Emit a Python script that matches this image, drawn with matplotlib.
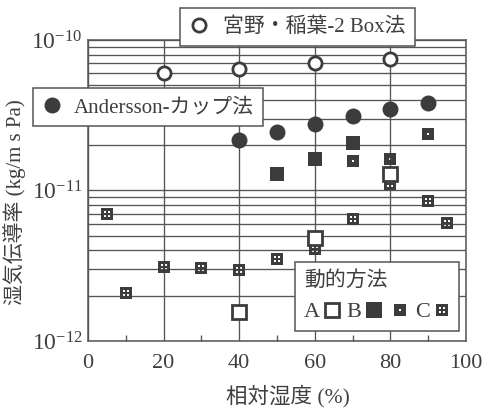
import matplotlib
matplotlib.use("Agg")
import matplotlib.pyplot as plt
from matplotlib.path import Path
from matplotlib.lines import Line2D
import numpy as np

# ---- data ----
box_rh = [20, 40, 60, 80]
box_val = [6.07e-11, 6.45e-11, 7.0e-11, 7.45e-11]

cup_rh = [40, 50, 60, 70, 80, 90]
cup_val = [2.17e-11, 2.45e-11, 2.77e-11, 3.14e-11, 3.5e-11, 3.84e-11]

a_rh = [40, 60, 80]
a_val = [1.55e-12, 4.85e-12, 1.28e-11]

b_rh = [50, 60, 70]
b_val = [1.28e-11, 1.61e-11, 2.07e-11]

bdot_rh = [70, 80, 90]
bdot_val = [1.57e-11, 1.61e-11, 2.37e-11]

c_rh = [5, 10, 20, 30, 40, 50, 60, 70, 80, 90, 95]
c_val = [6.95e-12, 2.07e-12, 3.11e-12, 3.07e-12, 2.98e-12, 3.52e-12,
         4.09e-12, 6.44e-12, 1.1e-11, 8.47e-12, 6.07e-12]

xticks = [0, 20, 40, 60, 80, 100]
yticks = [1e-12, 1e-11, 1e-10]
yticklabels = [r'$10^{-12}$', r'$10^{-11}$', r'$10^{-10}$']

label_box = '宮野・稲葉-2 Box法'
label_cup = 'Andersson-カップ法'
dyn_title = '動的方法'
xlabel = '相対湿度 (%)'
ylabel = '湿気伝導率 (kg/m s Pa)'

# ---- style ----
FAM = ['Liberation Serif', 'Noto Sans CJK JP']
plt.rcParams['font.family'] = FAM
plt.rcParams['mathtext.fontset'] = 'custom'
plt.rcParams['mathtext.rm'] = 'Liberation Serif'
plt.rcParams['mathtext.it'] = 'Liberation Serif:italic'
plt.rcParams['mathtext.default'] = 'rm'

DARK = '#3c3c3c'
LINE = '#555555'
TXT = '#3f3f3f'


def square_with_holes(centers, h):
    verts = [(-1, -1), (1, -1), (1, 1), (-1, 1), (-1, -1)]
    codes = [Path.MOVETO, Path.LINETO, Path.LINETO, Path.LINETO, Path.CLOSEPOLY]
    for (cx, cy) in centers:
        verts += [(cx - h, cy - h), (cx - h, cy + h), (cx + h, cy + h),
                  (cx + h, cy - h), (cx - h, cy - h)]
        codes += [Path.MOVETO, Path.LINETO, Path.LINETO, Path.LINETO, Path.CLOSEPOLY]
    return Path(verts, codes)


m_bdot = square_with_holes([(0, 0)], 0.2)
m_c = square_with_holes([(-0.32, -0.32), (0.32, -0.32), (-0.32, 0.32), (0.32, 0.32)], 0.17)

fig = plt.figure(figsize=(4.83, 4.11), dpi=100)
ax = fig.add_axes([88 / 483, 70 / 411, 378 / 483, 301 / 411])
ax.set_yscale('log')
ax.set_xlim(0, 100)
ax.set_ylim(1e-12, 1e-10)

# grid
ax.set_xticks(xticks)
ax.set_xticks([10, 30, 50, 70, 90], minor=True)
ax.grid(True, axis='x', which='major', color=LINE, lw=0.95)
ax.grid(True, axis='y', which='both', color=LINE, lw=0.95)
ax.set_axisbelow(True)
for s in ax.spines.values():
    s.set_color(LINE)
    s.set_linewidth(1.1)

ax.set_yticks(yticks)
ax.set_yticklabels(yticklabels)
ax.tick_params(axis='y', which='both', length=0, pad=4, labelsize=17, labelcolor=TXT)
ax.tick_params(axis='x', which='major', length=0, pad=9, labelsize=16, labelcolor=TXT)
ax.tick_params(axis='x', which='minor', direction='in', length=4, color=LINE, width=1)
ax.set_xticklabels([str(v) for v in xticks])

ax.set_xlabel(xlabel, fontsize=15.5, color=TXT)
ax.xaxis.set_label_coords(0.53, -0.145)
ax.set_ylabel(ylabel, fontsize=15, color=TXT)
ax.yaxis.set_label_coords(-0.165, 0.46)

# data
ax.plot(box_rh, box_val, ls='none', marker='o', ms=9.5, mfc='white', mec=DARK, mew=2.0, zorder=4)
ax.plot(cup_rh, cup_val, ls='none', marker='o', ms=11.5, mfc=DARK, mec=DARK, mew=0, zorder=4)
ax.plot(b_rh, b_val, ls='none', marker='s', ms=9.5, mfc=DARK, mec=DARK, mew=0, zorder=4)
ax.plot(bdot_rh, bdot_val, ls='none', marker=m_bdot, ms=8.4, mfc=DARK, mec=DARK, mew=0, zorder=4)
ax.plot(c_rh, c_val, ls='none', marker=m_c, ms=8.4, mfc=DARK, mec=DARK, mew=0, zorder=4)
ax.plot(a_rh, a_val, ls='none', marker='s', ms=10, mfc='white', mec=DARK, mew=2.0, zorder=5)

# legends
common = dict(frameon=True, fancybox=False, framealpha=1, edgecolor=LINE,
              facecolor='white', borderaxespad=0, bbox_transform=fig.transFigure)

h_box = Line2D([], [], ls='none', marker='o', ms=9.5, mfc='white', mec=DARK, mew=2.0)
leg1 = ax.legend([h_box], [label_box], loc='upper left',
                 bbox_to_anchor=(180 / 483, 1 - 8 / 411),
                 prop={'family': FAM, 'size': 15}, handlelength=0.9,
                 handletextpad=0.7, borderpad=0.45, labelcolor=TXT, **common)
leg1.get_frame().set_linewidth(1.1)
ax.add_artist(leg1)

h_cup = Line2D([], [], ls='none', marker='o', ms=11.5, mfc=DARK, mec=DARK, mew=0)
leg2 = ax.legend([h_cup], [label_cup], loc='upper left',
                 bbox_to_anchor=(33 / 483, 1 - 88 / 411),
                 prop={'family': FAM, 'size': 15}, handlelength=0.9,
                 handletextpad=0.6, borderpad=0.45, labelcolor=TXT, **common)
leg2.get_frame().set_linewidth(1.1)
ax.add_artist(leg2)

h_a = Line2D([], [], ls='none', marker='s', ms=10, mfc='white', mec=DARK, mew=2.0)
h_b = Line2D([], [], ls='none', marker='s', ms=12, mfc=DARK, mec=DARK, mew=0)
h_bd = Line2D([], [], ls='none', marker=m_bdot, ms=8.4, mfc=DARK, mec=DARK, mew=0)
h_c = Line2D([], [], ls='none', marker=m_c, ms=8.4, mfc=DARK, mec=DARK, mew=0)
leg3 = ax.legend([h_a, h_b, h_bd, h_c], ['A', 'B', '', 'C'], loc='upper left',
                 bbox_to_anchor=(295 / 483, 1 - 262 / 411), ncol=4,
                 markerfirst=False, title=dyn_title, alignment='left',
                 title_fontproperties={'family': FAM, 'size': 15},
                 prop={'family': FAM, 'size': 16}, handlelength=0.7,
                 handletextpad=0.2, columnspacing=0.3, borderpad=0.4,
                 labelcolor=TXT, **common)
leg3.get_title().set_color(TXT)
leg3.get_frame().set_linewidth(1.1)

fig.savefig('out.png', dpi=100, facecolor='white')
